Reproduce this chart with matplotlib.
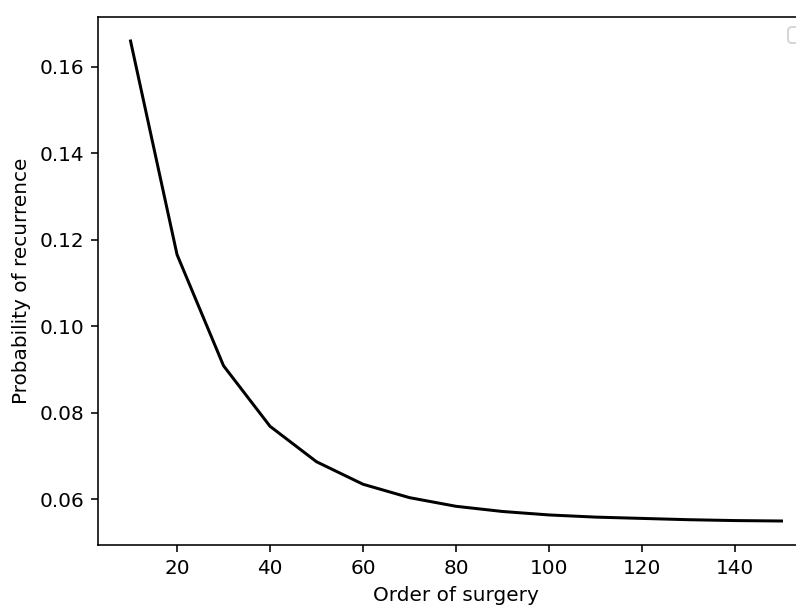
import matplotlib
matplotlib.use('Agg')
import matplotlib.pyplot as plt

# Data
order = [10, 20, 30, 40, 50, 60, 70, 80, 90, 100, 110, 120, 130, 140, 150]
prob = [0.1660, 0.1166, 0.0909, 0.0769, 0.0687, 0.0635, 0.0604, 0.0584,
        0.0572, 0.0564, 0.0559, 0.0556, 0.0553, 0.0551, 0.0550]

fig = plt.figure(figsize=(796 / 144, 605 / 144), dpi=144)
# axes run past the right edge, as in the cropped original
ax = fig.add_axes([98 / 796, 60 / 605, 716 / 796, 528 / 605])
ax.plot(order, prob, color='black')
ax.set_xlabel('Order of surgery')
ax.set_ylabel('Probability of recurrence')
ax.legend()  # empty legend box, as in the original

fig.savefig('out.png', dpi=144)
